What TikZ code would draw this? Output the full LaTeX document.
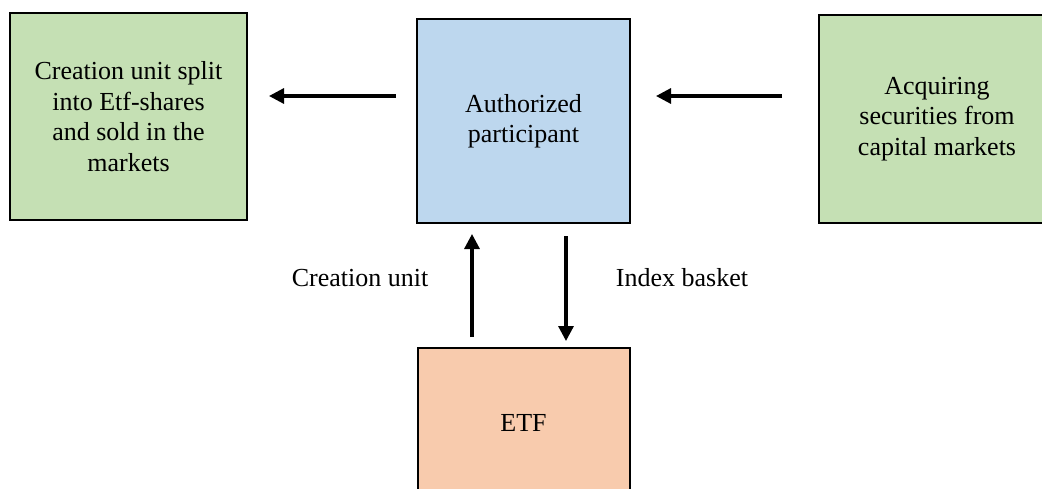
\documentclass[tikz,border=0pt]{standalone}
\usepackage{fontspec}
\setmainfont{Liberation Serif}
\usetikzlibrary{arrows.meta}
\definecolor{boxgreen}{HTML}{C5E0B4}
\definecolor{boxblue}{HTML}{BDD7EE}
\definecolor{boxorange}{HTML}{F8CBAD}
\tikzset{
  box/.style={draw=black, line width=2pt, inner sep=0pt, align=center,
    font=\fontsize{26}{30.5}\selectfont},
  arr/.style={line width=3.2pt, -{Triangle[length=15pt,width=15pt]}},
  lbl/.style={font=\fontsize{26}{30.5}\selectfont, inner sep=0pt}
}
\begin{document}
\begin{tikzpicture}[x=1pt,y=-1pt]
\useasboundingbox (0,0) rectangle (1042,488);
\clip (0,0) rectangle (1042,488);
\node[box, fill=boxgreen, minimum width=237pt, minimum height=207pt] (cu) at (128.5,116.5)
  {Creation unit split\\into Etf-shares\\and sold in the\\markets};
\node[box, fill=boxblue, minimum width=213pt, minimum height=204pt] (ap) at (523.5,121)
  {Authorized\\participant};
\node[box, fill=boxgreen, minimum width=236pt, minimum height=208pt] (acq) at (937,119)
  {Acquiring\\securities from\\capital markets};
\node[box, fill=boxorange, minimum width=212pt, minimum height=150pt] (etf) at (523.5,423)
  {ETF};
\draw[arr] ([xshift=-20pt,yshift=25pt]ap.west) -- ([xshift=21pt,yshift=20.5pt]cu.east);
\draw[arr] ([xshift=-36pt,yshift=23pt]acq.west) -- ([xshift=25pt,yshift=25pt]ap.east);
\draw[arr] ([xshift=-51.5pt,yshift=10pt]etf.north) -- ([xshift=-51.5pt,yshift=-10pt]ap.south);
\draw[arr] ([xshift=42.5pt,yshift=-12pt]ap.south) -- ([xshift=42.5pt,yshift=6pt]etf.north);
\node[lbl] (lcu) at (360,278) {Creation unit};
\node[lbl] (lib) at (682,278) {Index basket};
\end{tikzpicture}
\end{document}
